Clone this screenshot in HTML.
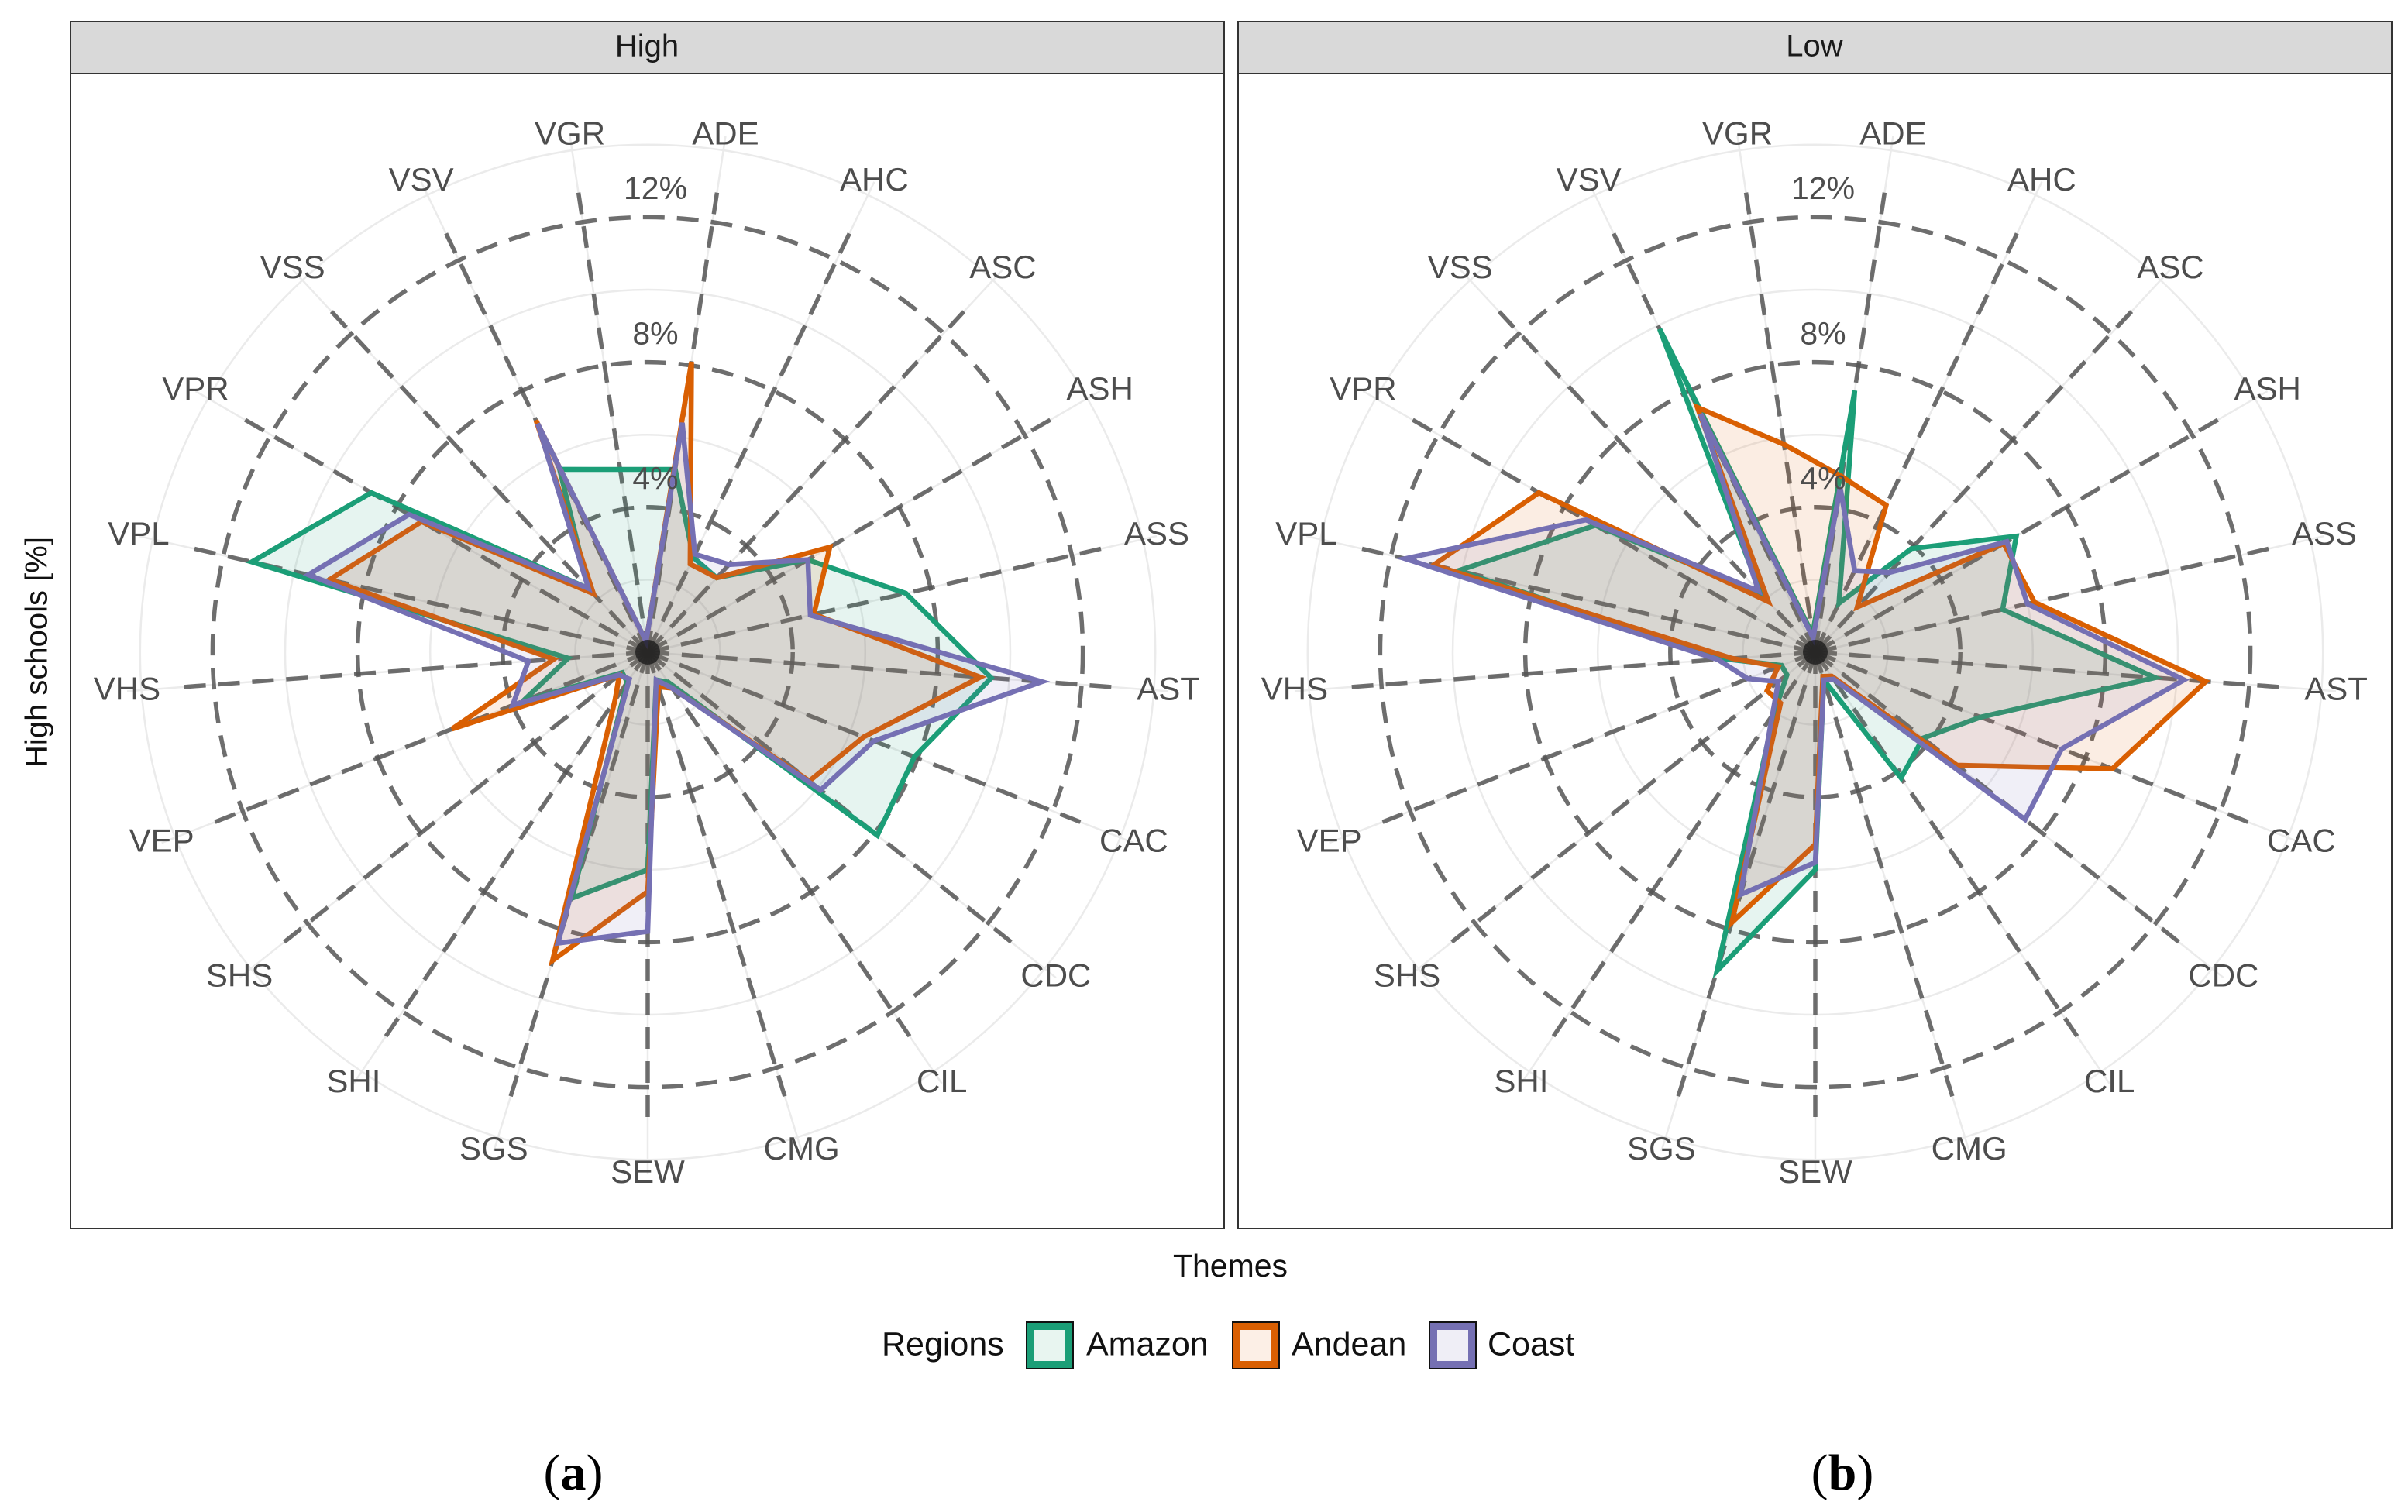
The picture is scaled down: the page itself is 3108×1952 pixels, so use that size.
<!DOCTYPE html>
<html><head><meta charset="utf-8"><style>
html,body{margin:0;padding:0;background:#fff;}
svg{display:block;font-family:"Liberation Sans",Arial,sans-serif;}
</style></head><body>
<svg id="chart" width="3108" height="1952" viewBox="0 0 3108 1952" xmlns="http://www.w3.org/2000/svg">
<rect width="3108" height="1952" fill="#fff"/>
<text x="50" y="842" transform="rotate(-90 50 842)" text-anchor="middle" dominant-baseline="middle" font-size="40" fill="#111">High schools [%]</text>
<text x="1588" y="1637" text-anchor="middle" dominant-baseline="middle" font-size="41" fill="#111">Themes</text>
<g>
<text x="1138" y="1738" dominant-baseline="middle" font-size="43" fill="#111">Regions</text>
<g><rect x="1330" y="1712" width="50" height="50" fill="#e8f5f0" stroke="#1b9e77" stroke-width="10"/><rect x="1325" y="1707" width="60" height="60" fill="none" stroke="#111" stroke-width="2"/><text x="1402" y="1738" dominant-baseline="middle" font-size="43" fill="#111">Amazon</text></g>
<g><rect x="1596" y="1712" width="50" height="50" fill="#fcefe6" stroke="#d95f02" stroke-width="10"/><rect x="1591" y="1707" width="60" height="60" fill="none" stroke="#111" stroke-width="2"/><text x="1667" y="1738" dominant-baseline="middle" font-size="43" fill="#111">Andean</text></g>
<g><rect x="1850" y="1712" width="50" height="50" fill="#efeef6" stroke="#7570b3" stroke-width="10"/><rect x="1845" y="1707" width="60" height="60" fill="none" stroke="#111" stroke-width="2"/><text x="1920" y="1738" dominant-baseline="middle" font-size="43" fill="#111">Coast</text></g>
</g>
<text x="740" y="1908" text-anchor="middle" dominant-baseline="middle" font-family="Liberation Serif,serif" font-size="66" fill="#000">(<tspan font-weight="bold">a</tspan>)</text>
<text x="2378" y="1908" text-anchor="middle" dominant-baseline="middle" font-family="Liberation Serif,serif" font-size="66" fill="#000">(<tspan font-weight="bold">b</tspan>)</text>
</svg>
<script>
const categories = ['ADE','AHC','ASC','ASH','ASS','AST','CAC','CDC','CIL','CMG','SEW','SGS','SHI','SHS','VEP','VHS','VPL','VPR','VSS','VSV','VGR'];
const regions = ['Amazon','Andean','Coast'];
const highAmazon = [5.1,2.9,2.8,5.1,7.3,9.5,7.9,8.1,1.0,0.8,6.0,7.1,1.0,0.9,3.7,2.2,11.2,8.8,2.4,5.6,5.1];
const highAndean = [8.1,2.7,2.8,5.8,4.7,9.2,6.4,5.7,1.2,1.0,6.6,8.9,1.6,1.0,5.8,2.6,9.0,7.2,2.2,7.1,0.3];
const highCoast  = [6.4,3.0,3.3,5.1,4.6,10.9,6.7,6.1,1.2,0.8,7.7,8.4,0.9,1.0,4.0,3.3,9.6,7.6,2.4,7.0,0.3];
const lowAmazon  = [7.3,1.5,3.9,6.4,5.3,9.4,4.9,3.8,4.2,0.8,6.0,9.2,2.0,1.0,1.0,2.5,10.1,7.0,2.2,9.9,0.5];
const lowAndean  = [4.9,4.5,1.7,6.0,6.2,10.8,8.8,5.0,0.8,0.7,5.3,7.8,1.7,1.7,1.1,2.3,10.8,8.8,1.9,7.5,5.8];
const lowCoast   = [4.6,2.5,3.0,6.1,6.0,10.2,7.3,7.4,0.9,0.8,5.8,7.0,2.1,1.3,2.0,2.7,11.6,7.3,2.3,7.3,0.4];
const radialTicks = [4,8,12];
const radialTickLabels = ['4%','8%','12%'];
const minorRings = [2,6,10,14];
const panelTitles = ['High','Low'];

const NS='http://www.w3.org/2000/svg';
const svg=document.getElementById('chart');
const colors=['#1b9e77','#d95f02','#7570b3'];
const PX=46.8;
function mk(tag,attrs,parent){const e=document.createElementNS(NS,tag);for(const k in attrs)e.setAttribute(k,attrs[k]);(parent||svg).appendChild(e);return e;}
function ang(i){return (i+0.5)*2*Math.PI/categories.length;}
function pt(cx,cy,i,v){const a=ang(i),r=v*PX;return [cx+r*Math.sin(a),cy-r*Math.cos(a)];}

function panel(px,cx,title,series,key){
  const g=mk('g',{});
  
  
  const strip=mk('rect',{x:px,y:28,width:1489,height:67,fill:'#d9d9d9',stroke:'#333',"stroke-width":2},g);
  
  
  const st=mk('text',{x:px+744,y:62,"text-anchor":'middle',"dominant-baseline":'middle',"font-size":40,fill:'#1a1a1a'},g);
  st.textContent=title;
  
  
  const cy=842;
  minorRings.forEach(v=>{const c=mk('circle',{cx:cx,cy:cy,r:v*PX,fill:'none',stroke:'#ebebeb',"stroke-width":2.5},g);
    
    });
  categories.forEach((c,i)=>{const p=pt(cx,cy,i,14.4);const l=mk('line',{x1:cx,y1:cy,x2:p[0],y2:p[1],stroke:'#ebebeb',"stroke-width":2.5},g);
    
    });
  radialTicks.forEach(v=>{const c=mk('circle',{cx:cx,cy:cy,r:v*PX,fill:'none',stroke:'#555',"stroke-opacity":0.85,"stroke-width":5.5,"stroke-dasharray":'28 16'},g);
    
    });
  categories.forEach((c,i)=>{const p=pt(cx,cy,i,13.1);const l=mk('line',{x1:cx,y1:cy,x2:p[0],y2:p[1],stroke:'#555',"stroke-opacity":0.85,"stroke-width":5.5,"stroke-dasharray":'28 16'},g);
    
    });
  series.forEach((vals,s)=>{
    const d=vals.map((v,i)=>pt(cx,cy,i,v).map(n=>n.toFixed(1)).join(',')).join(' ');
    const poly=mk('polygon',{points:d,fill:colors[s],"fill-opacity":0.11,stroke:colors[s],"stroke-width":6.5,"stroke-linejoin":'miter'},g);
    
    
  });
  const hub=mk('circle',{cx:cx,cy:cy,r:16,fill:'#111',"fill-opacity":0.7},g);
  
  
  radialTicks.forEach((v,k)=>{const t=mk('text',{x:cx+10,y:cy-v*PX-34,"text-anchor":'middle',"dominant-baseline":'middle',"font-size":41,fill:'#4d4d4d'},g);
    t.textContent=radialTickLabels[k];
    
    });
  categories.forEach((c,i)=>{const p=pt(cx,cy,i,14.4);const t=mk('text',{x:p[0],y:p[1],"text-anchor":'middle',"dominant-baseline":'middle',"font-size":42,fill:'#4d4d4d'},g);
    t.textContent=c;
    
    });
  const b=mk('rect',{x:px,y:95,width:1489,height:1491,fill:'none',stroke:'#333',"stroke-width":2},g);
  
  
}
panel(91,836,panelTitles[0],[highAmazon,highAndean,highCoast],'high');
panel(1598,2343,panelTitles[1],[lowAmazon,lowAndean,lowCoast],'low');
</script>
</body></html>
